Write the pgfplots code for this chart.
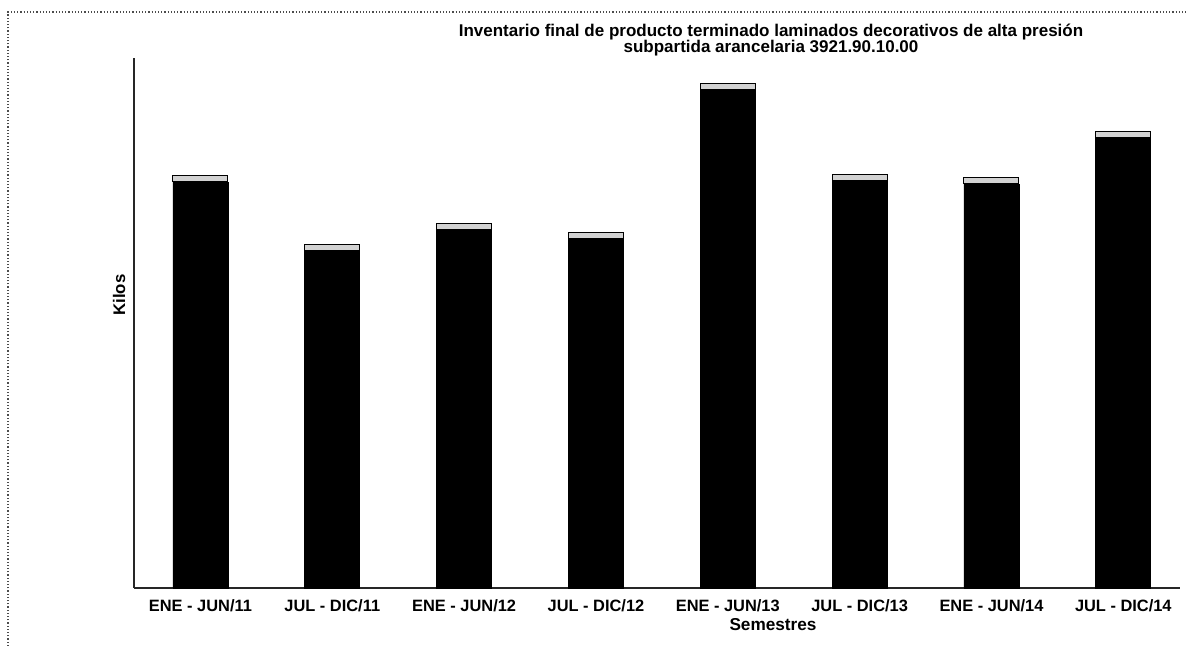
\documentclass[border=0pt]{standalone}
\usepackage{fontspec}
\setmainfont{Liberation Sans}
\usepackage{pgfplots}
\pgfplotsset{compat=1.18}

\pgfplotstableread{
idx body cap
0 406 6
1 337 6
2 358 6
3 349 6
4 498 6
5 407 6
6 404 6
7 450 6
}\inventario

\begin{document}
% one unit = one pixel of the 1188x646 scan, measured from the bottom left
\begin{tikzpicture}[x=0.5pt,y=0.5pt]
\useasboundingbox (0,0) rectangle (1188,646);
% scan frame
\draw[black!70, line width=0.6pt, densely dotted] (8,0) -- (8,634) -- (1188,634);

\begin{axis}[
    at={(134pt*0.5,58pt*0.5)}, anchor=south west,
    scale only axis,
    width=523pt, height=265pt,
    ybar stacked,
    bar width=27.5pt,
    xmin=-0.504, xmax=7.43,
    ymin=0, ymax=530,
    axis x line*=bottom,
    axis y line*=left,
    axis line style={-, line width=0.8pt, black!85},
    xtick={0,...,7},
    xticklabels={ENE - JUN/11, JUL - DIC/11, ENE - JUN/12, JUL - DIC/12,
                 ENE - JUN/13, JUL - DIC/13, ENE - JUN/14, JUL - DIC/14},
    ytick=\empty,
    major tick length=0pt,
    xticklabel style={font=\bfseries\fontsize{8.2}{9}\selectfont, yshift=-2.5pt},
    clip=false,
]
\addplot[fill=black, draw=black] table[x=idx, y=body] {\inventario};
\addplot[fill=gray!35, draw=black, line width=0.5pt] table[x=idx, y=cap] {\inventario};
\end{axis}

\node[font=\bfseries\fontsize{8.5}{8.2}\selectfont, align=center] at (771,606)
  {Inventario final de producto terminado laminados decorativos de alta presión\\
   subpartida arancelaria 3921.90.10.00};
\node[font=\bfseries\fontsize{8.6}{9}\selectfont] at (773,21) {Semestres};
\node[font=\bfseries\fontsize{8.4}{9}\selectfont, rotate=90] at (119,351) {Kilos};
\end{tikzpicture}
\end{document}
